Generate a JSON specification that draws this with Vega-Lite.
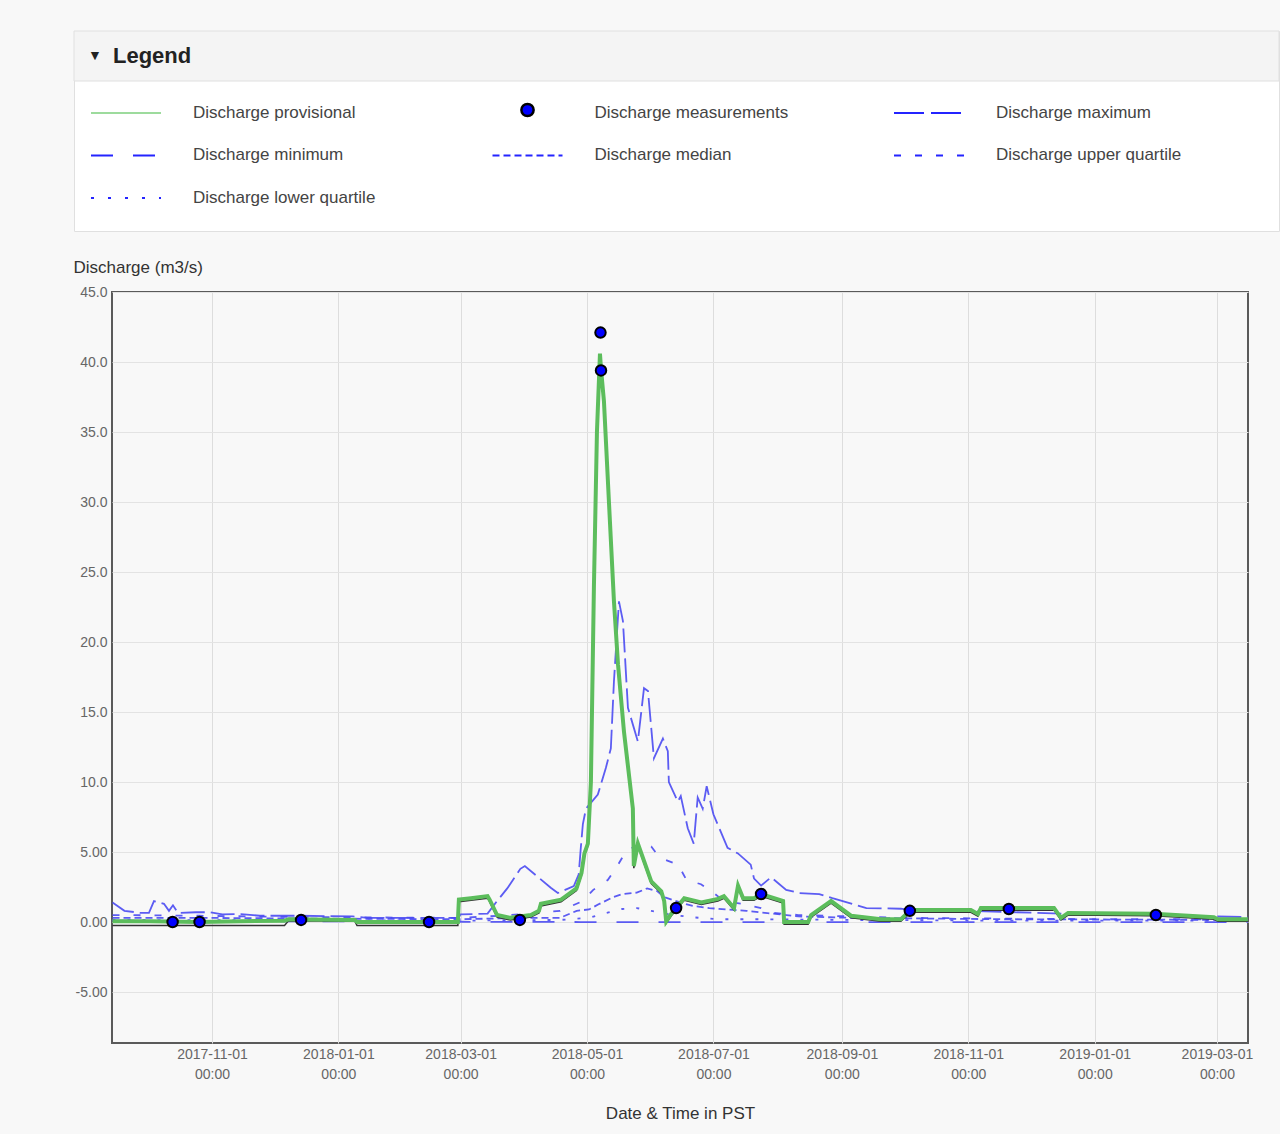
{
  "$schema": "https://vega.github.io/schema/vega-lite/v6.json",
  "background": "#f8f8f8",
  "padding": {"left": 72, "top": 30, "right": 1, "bottom": 12},
  "config": {"font": "Liberation Sans", "view": {"stroke": null}},
  "datasets": {
    "legend": [
      {"kind": "head", "label": "", "col": 0, "row": -1.9294, "row2": -0.7529},
      {"kind": "arrow", "label": "▼", "col": -0.0772, "row": -1.3412},
      {"kind": "title", "label": "Legend", "col": -0.0324, "row": -1.3412},
      {"kind": "prov", "label": "Discharge provisional", "col": 0, "row": 0},
      {"kind": "meas", "label": "Discharge measurements", "col": 1, "row": 0},
      {"kind": "max", "label": "Discharge maximum", "col": 2, "row": 0},
      {"kind": "min", "label": "Discharge minimum", "col": 0, "row": 1},
      {"kind": "median", "label": "Discharge median", "col": 1, "row": 1},
      {"kind": "upper", "label": "Discharge upper quartile", "col": 2, "row": 1},
      {"kind": "lower", "label": "Discharge lower quartile", "col": 0, "row": 2}
    ],
    "meas": [
      {"t": "2017-10-13T00:00:00Z", "v": 0.0},
      {"t": "2017-10-26T00:00:00Z", "v": 0.0},
      {"t": "2017-12-14T00:00:00Z", "v": 0.15},
      {"t": "2018-02-13T18:00:00Z", "v": 0.0},
      {"t": "2018-03-29T14:00:00Z", "v": 0.15},
      {"t": "2018-05-07T12:00:00Z", "v": 42.1},
      {"t": "2018-05-07T18:00:00Z", "v": 39.4},
      {"t": "2018-06-13T00:00:00Z", "v": 1.0},
      {"t": "2018-07-24T00:00:00Z", "v": 2.0},
      {"t": "2018-10-03T19:00:00Z", "v": 0.8},
      {"t": "2018-11-20T14:00:00Z", "v": 0.93},
      {"t": "2019-01-30T13:00:00Z", "v": 0.5}
    ],
    "series": [
      {"s": "prov", "t": "2017-09-14T00:00:00Z", "v": 0.05},
      {"s": "prov", "t": "2017-10-02T00:00:00Z", "v": 0.05},
      {"s": "prov", "t": "2017-10-26T00:00:00Z", "v": 0.0},
      {"s": "prov", "t": "2017-11-15T00:00:00Z", "v": 0.05},
      {"s": "prov", "t": "2017-12-06T00:00:00Z", "v": 0.1},
      {"s": "prov", "t": "2017-12-08T00:00:00Z", "v": 0.2},
      {"s": "prov", "t": "2018-01-09T00:00:00Z", "v": 0.15},
      {"s": "prov", "t": "2018-01-10T00:00:00Z", "v": 0.0},
      {"s": "prov", "t": "2018-02-09T00:00:00Z", "v": 0.0},
      {"s": "prov", "t": "2018-02-27T16:00:00Z", "v": 0.0},
      {"s": "prov", "t": "2018-02-28T04:00:00Z", "v": 1.6},
      {"s": "prov", "t": "2018-03-06T00:00:00Z", "v": 1.7},
      {"s": "prov", "t": "2018-03-14T00:00:00Z", "v": 1.85},
      {"s": "prov", "t": "2018-03-15T00:00:00Z", "v": 1.6},
      {"s": "prov", "t": "2018-03-18T14:00:00Z", "v": 0.5},
      {"s": "prov", "t": "2018-03-25T00:00:00Z", "v": 0.3},
      {"s": "prov", "t": "2018-04-03T22:00:00Z", "v": 0.5},
      {"s": "prov", "t": "2018-04-07T19:00:00Z", "v": 0.8},
      {"s": "prov", "t": "2018-04-08T18:00:00Z", "v": 1.3},
      {"s": "prov", "t": "2018-04-18T12:00:00Z", "v": 1.6},
      {"s": "prov", "t": "2018-04-25T22:00:00Z", "v": 2.4},
      {"s": "prov", "t": "2018-04-28T08:00:00Z", "v": 3.5},
      {"s": "prov", "t": "2018-04-29T18:00:00Z", "v": 4.9},
      {"s": "prov", "t": "2018-05-01T10:00:00Z", "v": 5.6},
      {"s": "prov", "t": "2018-05-02T21:00:00Z", "v": 10},
      {"s": "prov", "t": "2018-05-04T08:00:00Z", "v": 24},
      {"s": "prov", "t": "2018-05-05T19:00:00Z", "v": 35},
      {"s": "prov", "t": "2018-05-07T06:00:00Z", "v": 40.6},
      {"s": "prov", "t": "2018-05-07T18:00:00Z", "v": 39.5},
      {"s": "prov", "t": "2018-05-09T04:00:00Z", "v": 37.2},
      {"s": "prov", "t": "2018-05-11T14:00:00Z", "v": 30},
      {"s": "prov", "t": "2018-05-14T00:00:00Z", "v": 22.9},
      {"s": "prov", "t": "2018-05-15T23:00:00Z", "v": 18.4},
      {"s": "prov", "t": "2018-05-18T20:00:00Z", "v": 13.6},
      {"s": "prov", "t": "2018-05-23T03:00:00Z", "v": 8.1},
      {"s": "prov", "t": "2018-05-23T14:00:00Z", "v": 4.0},
      {"s": "prov", "t": "2018-05-25T13:00:00Z", "v": 5.6},
      {"s": "prov", "t": "2018-06-01T00:00:00Z", "v": 2.9},
      {"s": "prov", "t": "2018-06-05T20:00:00Z", "v": 2.2},
      {"s": "prov", "t": "2018-06-07T06:00:00Z", "v": 1.5},
      {"s": "prov", "t": "2018-06-08T05:00:00Z", "v": 0.05},
      {"s": "prov", "t": "2018-06-10T16:00:00Z", "v": 0.6},
      {"s": "prov", "t": "2018-06-13T01:00:00Z", "v": 1.0},
      {"s": "prov", "t": "2018-06-16T22:00:00Z", "v": 1.7},
      {"s": "prov", "t": "2018-06-25T04:00:00Z", "v": 1.4},
      {"s": "prov", "t": "2018-07-03T04:00:00Z", "v": 1.65},
      {"s": "prov", "t": "2018-07-06T02:00:00Z", "v": 1.85},
      {"s": "prov", "t": "2018-07-10T23:00:00Z", "v": 1.0},
      {"s": "prov", "t": "2018-07-12T21:00:00Z", "v": 2.6},
      {"s": "prov", "t": "2018-07-15T08:00:00Z", "v": 1.7},
      {"s": "prov", "t": "2018-07-20T15:00:00Z", "v": 1.7},
      {"s": "prov", "t": "2018-07-24T00:00:00Z", "v": 2.0},
      {"s": "prov", "t": "2018-08-03T15:00:00Z", "v": 1.5},
      {"s": "prov", "t": "2018-08-04T03:00:00Z", "v": 0.0},
      {"s": "prov", "t": "2018-08-15T17:00:00Z", "v": 0.0},
      {"s": "prov", "t": "2018-08-17T04:00:00Z", "v": 0.5},
      {"s": "prov", "t": "2018-08-26T19:00:00Z", "v": 1.5},
      {"s": "prov", "t": "2018-09-05T10:00:00Z", "v": 0.45},
      {"s": "prov", "t": "2018-09-19T21:00:00Z", "v": 0.2},
      {"s": "prov", "t": "2018-09-29T12:00:00Z", "v": 0.2},
      {"s": "prov", "t": "2018-10-03T19:00:00Z", "v": 0.8},
      {"s": "prov", "t": "2018-10-05T18:00:00Z", "v": 0.86},
      {"s": "prov", "t": "2018-11-02T06:00:00Z", "v": 0.86},
      {"s": "prov", "t": "2018-11-05T16:00:00Z", "v": 0.57},
      {"s": "prov", "t": "2018-11-07T02:00:00Z", "v": 1.0},
      {"s": "prov", "t": "2018-12-12T09:00:00Z", "v": 1.0},
      {"s": "prov", "t": "2018-12-15T18:00:00Z", "v": 0.3},
      {"s": "prov", "t": "2018-12-19T04:00:00Z", "v": 0.65},
      {"s": "prov", "t": "2019-01-29T14:00:00Z", "v": 0.6},
      {"s": "prov", "t": "2019-02-27T13:00:00Z", "v": 0.35},
      {"s": "prov", "t": "2019-03-01T12:00:00Z", "v": 0.2},
      {"s": "prov", "t": "2019-03-15T22:00:00Z", "v": 0.2},

      {"s": "black", "t": "2017-09-14T00:00:00Z", "v": -0.25},
      {"s": "black", "t": "2017-12-06T00:00:00Z", "v": -0.25},
      {"s": "black", "t": "2017-12-08T00:00:00Z", "v": 0.1},
      {"s": "black", "t": "2018-01-09T00:00:00Z", "v": 0.05},
      {"s": "black", "t": "2018-01-10T00:00:00Z", "v": -0.25},
      {"s": "black", "t": "2018-02-27T16:00:00Z", "v": -0.25},
      {"s": "black", "t": "2018-02-28T04:00:00Z", "v": 1.45},
      {"s": "black", "t": "2018-03-14T00:00:00Z", "v": 1.7},
      {"s": "black", "t": "2018-03-15T00:00:00Z", "v": 1.45},
      {"s": "black", "t": "2018-03-18T14:00:00Z", "v": 0.35},
      {"s": "black", "t": "2018-03-25T00:00:00Z", "v": 0.15},
      {"s": "black", "t": "2018-04-03T22:00:00Z", "v": 0.35},
      {"s": "black", "t": "2018-04-07T19:00:00Z", "v": 0.65},
      {"s": "black", "t": "2018-04-08T18:00:00Z", "v": 1.15},
      {"s": "black", "t": "2018-04-18T12:00:00Z", "v": 1.45},
      {"s": "black", "t": "2018-04-25T22:00:00Z", "v": 2.25},
      {"s": "black", "t": "2018-04-28T08:00:00Z", "v": 3.35},
      {"s": "black", "t": "2018-04-29T18:00:00Z", "v": 4.75},
      {"s": "black", "t": "2018-05-01T10:00:00Z", "v": 5.45},
      {"s": "black", "t": "2018-05-02T21:00:00Z", "v": 9.85},
      {"s": "black", "t": "2018-05-04T08:00:00Z", "v": 23.85},
      {"s": "black", "t": "2018-05-05T19:00:00Z", "v": 34.85},
      {"s": "black", "t": "2018-05-07T06:00:00Z", "v": 40.45},
      {"s": "black", "t": "2018-05-07T18:00:00Z", "v": 39.35},
      {"s": "black", "t": "2018-05-09T04:00:00Z", "v": 37.05},
      {"s": "black", "t": "2018-05-11T14:00:00Z", "v": 29.85},
      {"s": "black", "t": "2018-05-14T00:00:00Z", "v": 22.75},
      {"s": "black", "t": "2018-05-15T23:00:00Z", "v": 18.25},
      {"s": "black", "t": "2018-05-18T20:00:00Z", "v": 13.45},
      {"s": "black", "t": "2018-05-23T03:00:00Z", "v": 7.95},
      {"s": "black", "t": "2018-05-23T14:00:00Z", "v": 3.85},
      {"s": "black", "t": "2018-05-25T13:00:00Z", "v": 5.45},
      {"s": "black", "t": "2018-06-01T00:00:00Z", "v": 2.75},
      {"s": "black", "t": "2018-06-05T20:00:00Z", "v": 2.05},
      {"s": "black", "t": "2018-06-07T06:00:00Z", "v": 1.35},
      {"s": "black", "t": "2018-06-08T05:00:00Z", "v": -0.1},
      {"s": "black", "t": "2018-06-10T16:00:00Z", "v": 0.45},
      {"s": "black", "t": "2018-06-13T01:00:00Z", "v": 0.85},
      {"s": "black", "t": "2018-06-16T22:00:00Z", "v": 1.55},
      {"s": "black", "t": "2018-06-25T04:00:00Z", "v": 1.25},
      {"s": "black", "t": "2018-07-03T04:00:00Z", "v": 1.5},
      {"s": "black", "t": "2018-07-06T02:00:00Z", "v": 1.7},
      {"s": "black", "t": "2018-07-10T23:00:00Z", "v": 0.85},
      {"s": "black", "t": "2018-07-12T21:00:00Z", "v": 2.45},
      {"s": "black", "t": "2018-07-15T08:00:00Z", "v": 1.55},
      {"s": "black", "t": "2018-07-20T15:00:00Z", "v": 1.55},
      {"s": "black", "t": "2018-07-24T00:00:00Z", "v": 1.85},
      {"s": "black", "t": "2018-08-03T15:00:00Z", "v": 1.35},
      {"s": "black", "t": "2018-08-04T03:00:00Z", "v": -0.15},
      {"s": "black", "t": "2018-08-15T17:00:00Z", "v": -0.15},
      {"s": "black", "t": "2018-08-17T04:00:00Z", "v": 0.35},
      {"s": "black", "t": "2018-08-26T19:00:00Z", "v": 1.35},
      {"s": "black", "t": "2018-09-05T10:00:00Z", "v": 0.3},
      {"s": "black", "t": "2018-09-19T21:00:00Z", "v": 0.05},
      {"s": "black", "t": "2018-09-29T12:00:00Z", "v": 0.05},
      {"s": "black", "t": "2018-10-03T19:00:00Z", "v": 0.65},
      {"s": "black", "t": "2018-10-05T18:00:00Z", "v": 0.7},
      {"s": "black", "t": "2018-11-02T06:00:00Z", "v": 0.7},
      {"s": "black", "t": "2018-11-05T16:00:00Z", "v": 0.42},
      {"s": "black", "t": "2018-11-07T02:00:00Z", "v": 0.85},
      {"s": "black", "t": "2018-12-12T09:00:00Z", "v": 0.85},
      {"s": "black", "t": "2018-12-15T18:00:00Z", "v": 0.15},
      {"s": "black", "t": "2018-12-19T04:00:00Z", "v": 0.5},
      {"s": "black", "t": "2019-01-29T14:00:00Z", "v": 0.45},
      {"s": "black", "t": "2019-02-27T13:00:00Z", "v": 0.2},
      {"s": "black", "t": "2019-03-01T12:00:00Z", "v": 0.05},
      {"s": "black", "t": "2019-03-15T22:00:00Z", "v": 0.05},

      {"s": "max", "t": "2017-09-14T00:00:00Z", "v": 1.4},
      {"s": "max", "t": "2017-09-19T18:00:00Z", "v": 0.8},
      {"s": "max", "t": "2017-09-27T18:00:00Z", "v": 0.65},
      {"s": "max", "t": "2017-10-01T14:00:00Z", "v": 0.65},
      {"s": "max", "t": "2017-10-04T00:00:00Z", "v": 1.5},
      {"s": "max", "t": "2017-10-08T20:00:00Z", "v": 1.3},
      {"s": "max", "t": "2017-10-11T06:00:00Z", "v": 0.8},
      {"s": "max", "t": "2017-10-13T04:00:00Z", "v": 1.2},
      {"s": "max", "t": "2017-10-15T14:00:00Z", "v": 0.65},
      {"s": "max", "t": "2017-10-24T06:00:00Z", "v": 0.7},
      {"s": "max", "t": "2017-10-31T00:00:00Z", "v": 0.7},
      {"s": "max", "t": "2017-11-06T00:00:00Z", "v": 0.55},
      {"s": "max", "t": "2017-11-15T00:00:00Z", "v": 0.57},
      {"s": "max", "t": "2017-11-24T00:00:00Z", "v": 0.45},
      {"s": "max", "t": "2017-12-14T00:00:00Z", "v": 0.45},
      {"s": "max", "t": "2018-01-08T00:00:00Z", "v": 0.4},
      {"s": "max", "t": "2018-01-15T00:00:00Z", "v": 0.3},
      {"s": "max", "t": "2018-02-28T00:00:00Z", "v": 0.3},
      {"s": "max", "t": "2018-03-01T00:00:00Z", "v": 0.55},
      {"s": "max", "t": "2018-03-14T00:00:00Z", "v": 0.6},
      {"s": "max", "t": "2018-03-18T14:00:00Z", "v": 1.5},
      {"s": "max", "t": "2018-03-23T12:00:00Z", "v": 2.4},
      {"s": "max", "t": "2018-03-29T20:00:00Z", "v": 3.8},
      {"s": "max", "t": "2018-04-01T00:00:00Z", "v": 4.0},
      {"s": "max", "t": "2018-04-13T12:00:00Z", "v": 2.45},
      {"s": "max", "t": "2018-04-16T22:00:00Z", "v": 2.07},
      {"s": "max", "t": "2018-04-24T15:00:00Z", "v": 2.57},
      {"s": "max", "t": "2018-04-27T00:00:00Z", "v": 3.4},
      {"s": "max", "t": "2018-04-28T00:00:00Z", "v": 5.3},
      {"s": "max", "t": "2018-04-29T00:00:00Z", "v": 7.0},
      {"s": "max", "t": "2018-04-30T12:00:00Z", "v": 8.1},
      {"s": "max", "t": "2018-05-06T05:00:00Z", "v": 9.1},
      {"s": "max", "t": "2018-05-10T02:00:00Z", "v": 11},
      {"s": "max", "t": "2018-05-12T12:00:00Z", "v": 12.4},
      {"s": "max", "t": "2018-05-14T00:00:00Z", "v": 17.2},
      {"s": "max", "t": "2018-05-16T10:00:00Z", "v": 22.9},
      {"s": "max", "t": "2018-05-18T08:00:00Z", "v": 21.5},
      {"s": "max", "t": "2018-05-20T18:00:00Z", "v": 15.3},
      {"s": "max", "t": "2018-05-25T13:00:00Z", "v": 12.9},
      {"s": "max", "t": "2018-05-28T12:00:00Z", "v": 16.7},
      {"s": "max", "t": "2018-05-30T10:00:00Z", "v": 16.5},
      {"s": "max", "t": "2018-06-02T07:00:00Z", "v": 11.7},
      {"s": "max", "t": "2018-06-06T15:00:00Z", "v": 13.1},
      {"s": "max", "t": "2018-06-09T00:00:00Z", "v": 12.2},
      {"s": "max", "t": "2018-06-09T12:00:00Z", "v": 10},
      {"s": "max", "t": "2018-06-13T20:00:00Z", "v": 8.6},
      {"s": "max", "t": "2018-06-15T06:00:00Z", "v": 9.0},
      {"s": "max", "t": "2018-06-18T15:00:00Z", "v": 6.7},
      {"s": "max", "t": "2018-06-21T12:00:00Z", "v": 5.6},
      {"s": "max", "t": "2018-06-23T10:00:00Z", "v": 8.9},
      {"s": "max", "t": "2018-06-25T20:00:00Z", "v": 8.1},
      {"s": "max", "t": "2018-06-27T18:00:00Z", "v": 9.7},
      {"s": "max", "t": "2018-07-01T00:00:00Z", "v": 7.7},
      {"s": "max", "t": "2018-07-07T20:00:00Z", "v": 5.3},
      {"s": "max", "t": "2018-07-12T20:00:00Z", "v": 4.9},
      {"s": "max", "t": "2018-07-19T00:00:00Z", "v": 4.1},
      {"s": "max", "t": "2018-07-20T15:00:00Z", "v": 3.1},
      {"s": "max", "t": "2018-07-24T00:00:00Z", "v": 2.6},
      {"s": "max", "t": "2018-07-28T20:00:00Z", "v": 3.2},
      {"s": "max", "t": "2018-08-05T03:00:00Z", "v": 2.3},
      {"s": "max", "t": "2018-08-11T10:00:00Z", "v": 2.07},
      {"s": "max", "t": "2018-08-21T02:00:00Z", "v": 2.0},
      {"s": "max", "t": "2018-08-27T10:00:00Z", "v": 1.7},
      {"s": "max", "t": "2018-09-12T20:00:00Z", "v": 1.0},
      {"s": "max", "t": "2018-09-29T12:00:00Z", "v": 0.95},
      {"s": "max", "t": "2018-10-05T18:00:00Z", "v": 0.8},
      {"s": "max", "t": "2018-11-02T00:00:00Z", "v": 0.8},
      {"s": "max", "t": "2018-12-15T18:00:00Z", "v": 0.6},
      {"s": "max", "t": "2019-02-27T13:00:00Z", "v": 0.4},
      {"s": "max", "t": "2019-03-15T22:00:00Z", "v": 0.35},

      {"s": "upper", "t": "2017-09-14T00:00:00Z", "v": 0.5},
      {"s": "upper", "t": "2017-10-26T00:00:00Z", "v": 0.45},
      {"s": "upper", "t": "2017-12-14T00:00:00Z", "v": 0.35},
      {"s": "upper", "t": "2018-03-01T00:00:00Z", "v": 0.3},
      {"s": "upper", "t": "2018-03-20T00:00:00Z", "v": 0.45},
      {"s": "upper", "t": "2018-04-02T00:00:00Z", "v": 0.6},
      {"s": "upper", "t": "2018-04-18T00:00:00Z", "v": 0.8},
      {"s": "upper", "t": "2018-04-29T00:00:00Z", "v": 1.5},
      {"s": "upper", "t": "2018-05-04T00:00:00Z", "v": 2.3},
      {"s": "upper", "t": "2018-05-11T00:00:00Z", "v": 3.0},
      {"s": "upper", "t": "2018-05-16T00:00:00Z", "v": 4.1},
      {"s": "upper", "t": "2018-05-20T00:00:00Z", "v": 5.1},
      {"s": "upper", "t": "2018-05-27T00:00:00Z", "v": 5.6},
      {"s": "upper", "t": "2018-06-01T00:00:00Z", "v": 5.4},
      {"s": "upper", "t": "2018-06-05T00:00:00Z", "v": 4.6},
      {"s": "upper", "t": "2018-06-14T00:00:00Z", "v": 4.1},
      {"s": "upper", "t": "2018-06-18T00:00:00Z", "v": 3.0},
      {"s": "upper", "t": "2018-06-25T00:00:00Z", "v": 2.7},
      {"s": "upper", "t": "2018-07-01T00:00:00Z", "v": 2.1},
      {"s": "upper", "t": "2018-07-06T00:00:00Z", "v": 1.5},
      {"s": "upper", "t": "2018-07-15T00:00:00Z", "v": 1.3},
      {"s": "upper", "t": "2018-07-24T00:00:00Z", "v": 1.0},
      {"s": "upper", "t": "2018-07-30T00:00:00Z", "v": 0.65},
      {"s": "upper", "t": "2018-08-11T00:00:00Z", "v": 0.5},
      {"s": "upper", "t": "2018-09-05T00:00:00Z", "v": 0.4},
      {"s": "upper", "t": "2018-09-29T00:00:00Z", "v": 0.3},
      {"s": "upper", "t": "2018-11-17T00:00:00Z", "v": 0.25},
      {"s": "upper", "t": "2019-01-04T00:00:00Z", "v": 0.2},
      {"s": "upper", "t": "2019-03-15T22:00:00Z", "v": 0.2},

      {"s": "median", "t": "2017-09-14T00:00:00Z", "v": 0.3},
      {"s": "median", "t": "2017-10-26T00:00:00Z", "v": 0.3},
      {"s": "median", "t": "2017-12-14T00:00:00Z", "v": 0.25},
      {"s": "median", "t": "2018-03-01T00:00:00Z", "v": 0.2},
      {"s": "median", "t": "2018-04-02T00:00:00Z", "v": 0.3},
      {"s": "median", "t": "2018-04-18T00:00:00Z", "v": 0.3},
      {"s": "median", "t": "2018-04-26T00:00:00Z", "v": 0.8},
      {"s": "median", "t": "2018-05-02T00:00:00Z", "v": 0.9},
      {"s": "median", "t": "2018-05-07T00:00:00Z", "v": 1.3},
      {"s": "median", "t": "2018-05-14T00:00:00Z", "v": 1.8},
      {"s": "median", "t": "2018-05-18T00:00:00Z", "v": 2.0},
      {"s": "median", "t": "2018-05-25T00:00:00Z", "v": 2.1},
      {"s": "median", "t": "2018-05-30T00:00:00Z", "v": 2.4},
      {"s": "median", "t": "2018-06-04T00:00:00Z", "v": 2.2},
      {"s": "median", "t": "2018-06-07T00:00:00Z", "v": 1.8},
      {"s": "median", "t": "2018-06-15T00:00:00Z", "v": 1.4},
      {"s": "median", "t": "2018-06-21T00:00:00Z", "v": 1.15},
      {"s": "median", "t": "2018-06-29T00:00:00Z", "v": 1.0},
      {"s": "median", "t": "2018-07-07T00:00:00Z", "v": 0.9},
      {"s": "median", "t": "2018-07-17T00:00:00Z", "v": 0.8},
      {"s": "median", "t": "2018-07-27T00:00:00Z", "v": 0.64},
      {"s": "median", "t": "2018-08-11T00:00:00Z", "v": 0.4},
      {"s": "median", "t": "2018-09-05T00:00:00Z", "v": 0.3},
      {"s": "median", "t": "2018-11-17T00:00:00Z", "v": 0.2},
      {"s": "median", "t": "2019-03-15T22:00:00Z", "v": 0.15},

      {"s": "lower", "t": "2017-09-14T00:00:00Z", "v": 0.15},
      {"s": "lower", "t": "2017-12-14T00:00:00Z", "v": 0.12},
      {"s": "lower", "t": "2018-03-01T00:00:00Z", "v": 0.1},
      {"s": "lower", "t": "2018-04-18T00:00:00Z", "v": 0.15},
      {"s": "lower", "t": "2018-05-02T00:00:00Z", "v": 0.3},
      {"s": "lower", "t": "2018-05-09T00:00:00Z", "v": 0.6},
      {"s": "lower", "t": "2018-05-18T00:00:00Z", "v": 0.93},
      {"s": "lower", "t": "2018-05-25T00:00:00Z", "v": 1.0},
      {"s": "lower", "t": "2018-06-01T00:00:00Z", "v": 0.8},
      {"s": "lower", "t": "2018-06-09T00:00:00Z", "v": 0.57},
      {"s": "lower", "t": "2018-06-20T00:00:00Z", "v": 0.35},
      {"s": "lower", "t": "2018-07-03T00:00:00Z", "v": 0.2},
      {"s": "lower", "t": "2018-07-24T00:00:00Z", "v": 0.2},
      {"s": "lower", "t": "2018-09-05T00:00:00Z", "v": 0.15},
      {"s": "lower", "t": "2018-11-17T00:00:00Z", "v": 0.1},
      {"s": "lower", "t": "2019-03-15T22:00:00Z", "v": 0.1},

      {"s": "min", "t": "2017-09-14T00:00:00Z", "v": 0.1},
      {"s": "min", "t": "2017-12-14T00:00:00Z", "v": 0.05},
      {"s": "min", "t": "2018-03-01T00:00:00Z", "v": 0.02},
      {"s": "min", "t": "2018-04-28T00:00:00Z", "v": 0.0},
      {"s": "min", "t": "2018-08-11T00:00:00Z", "v": 0.0},
      {"s": "min", "t": "2018-11-17T00:00:00Z", "v": 0.0},
      {"s": "min", "t": "2019-03-15T22:00:00Z", "v": 0.0}
    ]
  },
  "spacing": 61,
  "align": "none",
  "bounds": "flush",
  "resolve": {"scale": {"x": "independent", "y": "independent", "strokeDash": "independent"}},
  "vconcat": [
    {
      "width": 1205,
      "height": 200,
      "view": {"fill": "#ffffff", "stroke": "#e0e0e0"},
      "data": {"name": "legend"},
      "encoding": {
        "x": {"field": "col", "type": "quantitative", "scale": {"domain": [-0.1295, 2.8717], "nice": false, "zero": false}, "axis": null},
        "y": {"field": "row", "type": "quantitative", "scale": {"domain": [-1.9294, 2.7765], "reverse": true, "nice": false, "zero": false}, "axis": null}
      },
      "layer": [
        {
          "transform": [{"filter": "datum.kind == 'head'"}],
          "mark": {"type": "rect", "fill": "#f4f4f4", "stroke": "#e0e0e0", "strokeWidth": 1},
          "encoding": {
            "x": null,
            "y": {"field": "row", "type": "quantitative"},
            "y2": {"field": "row2"}
          }
        },
        {
          "transform": [{"filter": "datum.kind == 'arrow'"}],
          "mark": {"type": "text", "fontSize": 14, "color": "#222222", "align": "center"},
          "encoding": {"text": {"field": "label"}}
        },
        {
          "transform": [{"filter": "datum.kind == 'title'"}],
          "mark": {"type": "text", "fontSize": 22, "fontWeight": "bold", "color": "#222222", "align": "left"},
          "encoding": {"text": {"field": "label"}}
        },
        {
          "transform": [{"filter": "datum.kind == 'prov'"}],
          "mark": {"type": "point", "shape": "stroke", "size": 4900, "filled": false, "color": "#7ccf7c", "strokeWidth": 1.5, "opacity": 1}
        },
        {
          "transform": [{"filter": "indexof(['max','min','median','upper','lower'], datum.kind) >= 0"}],
          "mark": {"type": "point", "shape": "stroke", "size": 4900, "filled": false, "color": "#2424ff", "strokeWidth": 2, "opacity": 1},
          "encoding": {
            "strokeDash": {"field": "kind", "type": "nominal", "legend": null,
              "scale": {"domain": ["max", "min", "median", "upper", "lower"], "range": [[30, 7], [22, 20], [7, 4], [7, 14], [3, 14]]}}
          }
        },
        {
          "transform": [{"filter": "datum.kind == 'meas'"}],
          "mark": {"type": "point", "shape": "circle", "size": 150, "filled": true, "fill": "#0000ff", "stroke": "#000000", "strokeWidth": 2.5, "opacity": 1, "yOffset": -3}
        },
        {
          "transform": [{"filter": "indexof(['head','arrow','title'], datum.kind) < 0"}],
          "mark": {"type": "text", "align": "left", "dx": 67, "fontSize": 17, "color": "#444444"},
          "encoding": {"text": {"field": "label"}}
        }
      ]
    },
    {
      "spacing": 37,
      "align": "none",
      "bounds": "flush",
      "resolve": {"scale": {"x": "independent", "y": "independent", "strokeDash": "independent"}},
      "hconcat": [
        {
          "width": 1,
          "height": 1,
          "data": {"values": []},
          "mark": {"type": "point", "opacity": 0},
          "encoding": {}
        },
        {
          "width": 1136,
          "height": 751,
          "view": {"stroke": "#5a5a5a", "strokeWidth": 2},
          "encoding": {
            "x": {
              "field": "t", "type": "temporal",
              "scale": {"type": "utc", "nice": false,
                "domain": [{"year": 2017, "month": 9, "date": 13, "hours": 18, "utc": true}, {"year": 2019, "month": 3, "date": 16, "utc": true}]},
              "axis": {
                "title": "Date & Time in PST",
                "values": [
                  {"year": 2017, "month": 11, "date": 1, "utc": true},
                  {"year": 2018, "month": 1, "date": 1, "utc": true},
                  {"year": 2018, "month": 3, "date": 1, "utc": true},
                  {"year": 2018, "month": 5, "date": 1, "utc": true},
                  {"year": 2018, "month": 7, "date": 1, "utc": true},
                  {"year": 2018, "month": 9, "date": 1, "utc": true},
                  {"year": 2018, "month": 11, "date": 1, "utc": true},
                  {"year": 2019, "month": 1, "date": 1, "utc": true},
                  {"year": 2019, "month": 3, "date": 1, "utc": true}
                ],
                "labelExpr": "[utcFormat(datum.value, '%Y-%m-%d'), '00:00']",
                "labelFontSize": 14, "labelColor": "#666666", "labelLineHeight": 20,
                "labelPadding": 4, "labelBaseline": "top", "labelOverlap": false, "labelFlush": false,
                "ticks": false, "domain": false, "grid": true, "gridColor": "#dddddd",
                "titleFontSize": 17, "titleFontWeight": "normal", "titleColor": "#333333", "titlePadding": 24
              }
            },
            "y": {
              "field": "v", "type": "quantitative",
              "scale": {"domain": [-8.64, 45], "nice": false, "zero": false},
              "axis": {
                "title": "Discharge (m3/s)",
                "values": [-5, 0, 5, 10, 15, 20, 25, 30, 35, 40, 45],
                "labelExpr": "datum.value == 0 ? '0.00' : (datum.value < 0 ? '-' + format(-datum.value, '.3r') : format(datum.value, '.3r'))",
                "labelFontSize": 14, "labelColor": "#666666", "labelPadding": 5,
                "ticks": false, "domain": false, "grid": true, "gridColor": "#e3e3e3",
                "titleAngle": 0, "titleAlign": "left", "titleBaseline": "middle", "titleX": -39, "titleY": -25,
                "titleFontSize": 17, "titleFontWeight": "normal", "titleColor": "#333333"
              }
            }
          },
          "layer": [
            {
              "data": {"name": "series"},
              "transform": [{"filter": "datum.s != 'prov' && datum.s != 'black'"}],
              "mark": {"type": "line", "color": "#4a4af2", "strokeWidth": 1.8, "opacity": 0.9},
              "encoding": {
                "strokeDash": {"field": "s", "type": "nominal", "legend": null,
                  "scale": {"domain": ["max", "min", "median", "upper", "lower"], "range": [[24, 6], [22, 20], [7, 4], [7, 14], [3, 12]]}}
              }
            },
            {
              "data": {"name": "series"},
              "transform": [{"filter": "datum.s == 'black'"}],
              "mark": {"type": "line", "color": "#333333", "strokeWidth": 1.5},
              "encoding": {}
            },
            {
              "data": {"name": "series"},
              "transform": [{"filter": "datum.s == 'prov'"}],
              "mark": {"type": "line", "color": "#5cbd5c", "strokeWidth": 4},
              "encoding": {}
            },
            {
              "data": {"name": "meas"},
              "mark": {"type": "point", "shape": "circle", "filled": true, "fill": "#0000ff", "stroke": "#000000", "strokeWidth": 2, "size": 110, "opacity": 1}
            }
          ]
        }
      ]
    }
  ]
}
